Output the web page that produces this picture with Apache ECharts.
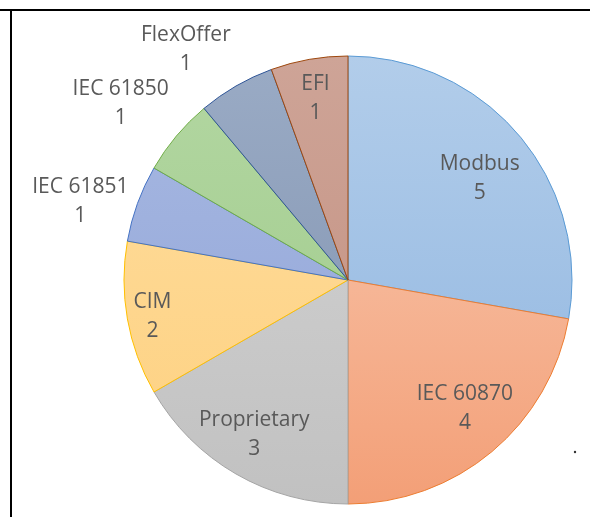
<!DOCTYPE html>
<html>
<head>
<meta charset="utf-8">
<script src="https://cdn.jsdelivr.net/npm/echarts@6/dist/echarts.min.js"></script>
<style>
html,body{margin:0;padding:0;background:#fff;}
#chart{width:590px;height:517px;}
</style>
</head>
<body>
<div id="chart"></div>
<script>
// ---- data ----
const categories = ['Modbus', 'IEC 60870', 'Proprietary', 'CIM', 'IEC 61851', 'IEC 61850', 'FlexOffer', 'EFI'];
const values = [5, 4, 3, 2, 1, 1, 1, 1];

// ---- styles ----
const topColors = ['#b2cdea', '#f9cdb6', '#d5d5d5', '#ffdea0', '#a8b9e2', '#b3d7a2', '#9aabc5', '#cea497'];
const bottomColors = ['#8fb5e0', '#f39f77', '#c1c1c1', '#fdd07f', '#8fa3d7', '#9dc988', '#7f91ae', '#c28e7e'];
const borderColors = ['#5b9bd5', '#ed7d31', '#a5a5a5', '#ffc000', '#4472c4', '#70ad47', '#2f5597', '#9e480e'];
// label placement (radius from centre, angular nudge in degrees clockwise)
const labelRadius = [163, 171, 178, 196, 276, 285, 279, 181];
const labelShift = [2.5, -2.2, 1.2, -0.6, -3.6, -2.1, -5.1, -0.2];

const CX = 348, CY = 280, R = 224;

const chart = echarts.init(document.getElementById('chart'), null, {renderer: 'canvas'});

function grad(i) {
  return {
    type: 'linear', global: true,
    x: 0, y: CY - R, x2: 0, y2: CY + R,
    colorStops: [{offset: 0, color: topColors[i]}, {offset: 1, color: bottomColors[i]}]
  };
}

const series = [{
  type: 'pie',
  center: [CX, CY],
  radius: [0, R],
  startAngle: 90,
  clockwise: true,
  silent: true,
  label: {show: false},
  labelLine: {show: false},
  emphasis: {disabled: true},
  data: categories.map((c, i) => ({
    name: c, value: values[i],
    itemStyle: {color: grad(i), borderColor: borderColors[i], borderWidth: 1}
  }))
}];

categories.forEach((c, k) => {
  series.push({
    type: 'pie',
    center: [CX, CY],
    radius: [labelRadius[k] - 1, labelRadius[k] + 1],
    startAngle: 90 - labelShift[k],
    clockwise: true,
    silent: true,
    avoidLabelOverlap: false,
    labelLayout: {hideOverlap: false},
    emphasis: {disabled: true},
    labelLine: {show: false},
    itemStyle: {color: 'rgba(0,0,0,0)', borderWidth: 0},
    data: categories.map((n, i) => ({
      name: n, value: values[i],
      label: {
        show: i === k,
        position: 'inside',
        formatter: '{b}\n{c}',
        color: '#595959',
        fontFamily: 'Open Sans',
        fontSize: 21,
        lineHeight: 29,
        align: 'center'
      }
    }))
  });
});

chart.setOption({
  animation: false,
  backgroundColor: '#ffffff',
  graphic: [
    {type: 'rect', shape: {x: 0, y: 9, width: 590, height: 2}, style: {fill: '#000'}, silent: true},
    {type: 'rect', shape: {x: 10, y: 9, width: 2, height: 508}, style: {fill: '#000'}, silent: true},
    {type: 'circle', shape: {cx: 575, cy: 452, r: 1.2}, style: {fill: '#333'}, silent: true}
  ],
  series: series
});
</script>
</body>
</html>
